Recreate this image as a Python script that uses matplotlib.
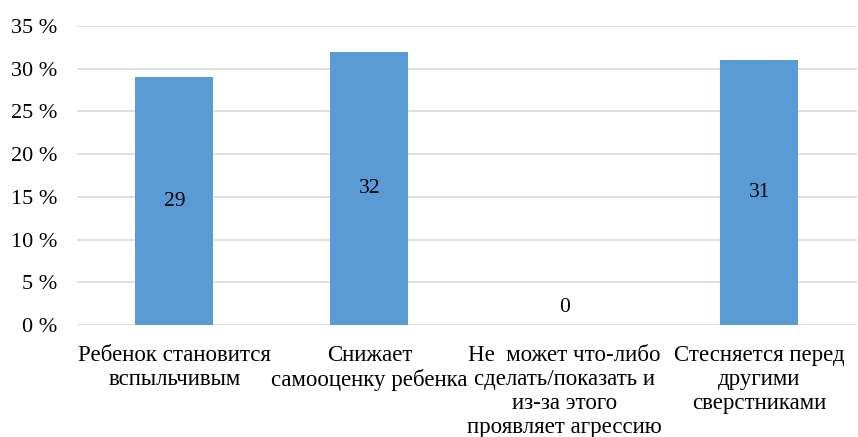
import matplotlib.pyplot as plt
from matplotlib.ticker import FuncFormatter

categories = ['Ребенок становится\nвспыльчивым',
              'Снижает\nсамооценку ребенка',
              'Не  может что-либо\nсделать/показать и\nиз-за этого\nпроявляет агрессию',
              'Стесняется перед\nдругими\nсверстниками']
values = [29, 32, 0, 31]

plt.rcParams['font.family'] = ['Liberation Serif', 'DejaVu Serif']

fig = plt.figure(figsize=(8.58, 4.37), dpi=100)
ax = fig.add_axes([0.0897, 0.256, 0.909, 0.6845])

x = range(len(categories))
bars = ax.bar(x, values, width=0.4, color='#5b9bd5', zorder=3)
for i, v in enumerate(values):
    if v > 0:
        ax.text(i, v / 2, str(v), ha='center', va='center', fontsize=15.5, zorder=4)
    else:
        ax.text(i, 0.9, str(v), ha='center', va='bottom', fontsize=15.5, zorder=4)

ax.set_xlim(-0.5, 3.5)
ax.set_ylim(0, 35)
ax.set_yticks(range(0, 36, 5))
ax.yaxis.set_major_formatter(FuncFormatter(lambda v, p: f'{int(v)} %'))
ax.set_xticks(list(x))
ax.set_xticklabels(categories, fontsize=16.5, linespacing=1.2)
ax.tick_params(axis='y', labelsize=16, length=0, pad=14)
ax.tick_params(axis='x', length=0, pad=14)
ax.grid(axis='y', color='#d9d9d9', linewidth=1.2, zorder=0)
for s in ax.spines.values():
    s.set_visible(False)

fig.savefig('out.png', dpi=100)
